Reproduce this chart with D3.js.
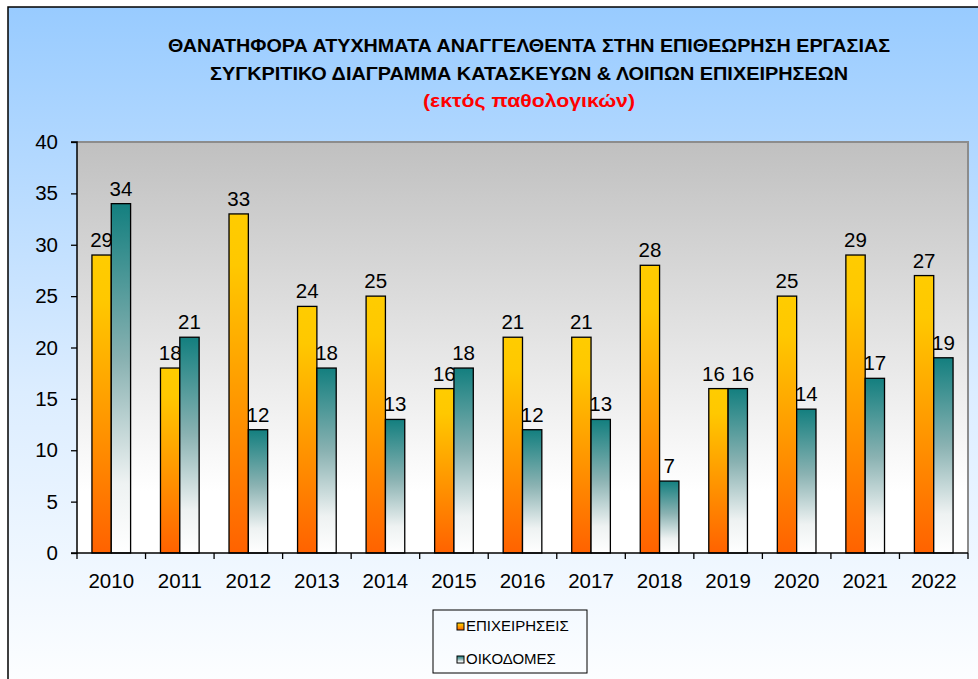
<!DOCTYPE html>
<html>
<head>
<meta charset="utf-8">
<script src="https://cdn.jsdelivr.net/npm/d3@7/dist/d3.min.js"></script>
<style>
  html, body { margin: 0; padding: 0; background: #ffffff; }
  svg { display: block; font-family: "Liberation Sans", Arial, sans-serif; }
</style>
</head>
<body>
<svg id="chart" width="978" height="679"></svg>
<script>
const years = ["2010","2011","2012","2013","2014","2015","2016","2017","2018","2019","2020","2021","2022"];
const epixeiriseis = [29,18,33,24,25,16,21,21,28,16,25,29,27];
const oikodomes   = [34,21,12,18,13,18,12,13,7,16,14,17,19];
const seriesNames = ["ΕΠΙΧΕΙΡΗΣΕΙΣ","ΟΙΚΟΔΟΜΕΣ"];
const yTicks = [0,5,10,15,20,25,30,35,40];
const titleLines = [
  "ΘΑΝΑΤΗΦΟΡΑ ΑΤΥΧΗΜΑΤΑ ΑΝΑΓΓΕΛΘΕΝΤΑ ΣΤΗΝ ΕΠΙΘΕΩΡΗΣΗ ΕΡΓΑΣΙΑΣ",
  "ΣΥΓΚΡΙΤΙΚΟ ΔΙΑΓΡΑΜΜΑ ΚΑΤΑΣΚΕΥΩΝ & ΛΟΙΠΩΝ ΕΠΙΧΕΙΡΗΣΕΩΝ",
  "(εκτός παθολογικών)"
];

const svg = d3.select("#chart");
const defs = svg.append("defs");

function vgrad(id, stops) {
  const g = defs.append("linearGradient").attr("id", id)
    .attr("x1", 0).attr("y1", 0).attr("x2", 0).attr("y2", 1);
  stops.forEach(s => g.append("stop").attr("offset", s[0]).attr("stop-color", s[1]));
}
vgrad("bgGrad", [[0, "#98CBFF"], [0.55, "#DCEDFF"], [1, "#FFFFFF"]]);
vgrad("plotGrad", [[0, "#C0C0C0"], [0.85, "#FFFFFF"], [1, "#FFFFFF"]]);
vgrad("orangeGrad", [[0, "#FFCC00"], [0.15, "#FFC800"], [1, "#FF6200"]]);
vgrad("tealGrad", [[0, "#137F7F"], [0.45, "#8AB2B2"], [0.8, "#EEF2F2"], [1, "#FFFFFF"]]);

// outer chart area
svg.append("rect").attr("x", 8).attr("y", 7).attr("width", 990).attr("height", 700)
  .attr("fill", "url(#bgGrad)").attr("stroke", "#000").attr("stroke-width", 1.5);

// title
const titleSpecs = [
  {y: 52, len: 722, color: "#000"},
  {y: 80, len: 638, color: "#000"},
  {y: 107, len: 212, color: "#FF0000"}
];
titleLines.forEach((t, i) => {
  svg.append("text")
    .attr("x", 529).attr("y", titleSpecs[i].y)
    .attr("text-anchor", "middle")
    .attr("font-family", "'Liberation Sans Narrow', 'Liberation Sans', Arial, sans-serif")
    .attr("font-weight", "bold").attr("font-size", 19)
    .attr("fill", titleSpecs[i].color)
    .attr("textLength", titleSpecs[i].len)
    .attr("lengthAdjust", "spacingAndGlyphs")
    .text(t);
});

// plot area
const px0 = 77, px1 = 968, py0 = 142, py1 = 553;
const x = d3.scaleBand().domain(years).range([px0, px1]).padding(0);
const y = d3.scaleLinear().domain([0, 40]).range([py1, py0]);

svg.append("rect").attr("x", px0).attr("y", py0).attr("width", px1 - px0).attr("height", py1 - py0)
  .attr("fill", "url(#plotGrad)");
// gray frame top/right
svg.append("path").attr("d", `M${px0},${py0}H${px1}V${py1}`)
  .attr("fill", "none").attr("stroke", "#8C8C8C").attr("stroke-width", 2);

// bars
const bw = x.bandwidth() * 0.282;
const fs = 20.5;
const data = years.map((yr, i) => ({yr, a: epixeiriseis[i], b: oikodomes[i]}));
const g = svg.append("g");
data.forEach(d => {
  const cx = x(d.yr) + x.bandwidth() / 2;
  // nudge labels outward when they would collide
  const close = Math.abs(y(d.a) - y(d.b)) < fs * 1.0;
  const nudge = close ? 5 : 0;
  const items = [
    {v: d.a, x0: cx - bw, fill: "url(#orangeGrad)", dx: -nudge},
    {v: d.b, x0: cx, fill: "url(#tealGrad)", dx: nudge}
  ];
  items.forEach(it => {
    g.append("rect").attr("x", it.x0).attr("y", y(it.v))
      .attr("width", bw).attr("height", y(0) - y(it.v))
      .attr("fill", it.fill).attr("stroke", "#000").attr("stroke-width", 1.3);
    g.append("text").attr("x", it.x0 + bw / 2 + it.dx).attr("y", y(it.v) - 8)
      .attr("text-anchor", "middle").attr("font-size", fs).attr("fill", "#000")
      .text(it.v);
  });
});

// y axis
const yAxis = d3.axisLeft(y).tickValues(yTicks).tickSize(6).tickPadding(13);
const ya = svg.append("g").attr("transform", `translate(${px0},0)`).call(yAxis);
ya.select(".domain").attr("stroke", "#000").attr("stroke-width", 1.5).attr("d", `M-6,${py0}H0V${py1}H-6`);
ya.selectAll(".tick line").attr("stroke", "#000").attr("stroke-width", 1.3);
ya.selectAll(".tick text").attr("font-size", fs).attr("fill", "#000")
  .attr("font-family", "'Liberation Sans', Arial, sans-serif");

// x axis
const xa = svg.append("g").attr("transform", `translate(0,${py1})`);
xa.append("line").attr("x1", px0).attr("x2", px1).attr("y1", 0).attr("y2", 0)
  .attr("stroke", "#000").attr("stroke-width", 1.5);
const bounds = years.map(yr => x(yr)).concat([px1]);
xa.selectAll("line.tk").data(bounds).enter().append("line").attr("class", "tk")
  .attr("x1", d => d).attr("x2", d => d).attr("y1", 0).attr("y2", 6)
  .attr("stroke", "#000").attr("stroke-width", 1.3);
xa.selectAll("text.lbl").data(years).enter().append("text").attr("class", "lbl")
  .attr("x", d => x(d) + x.bandwidth() / 2).attr("y", 35)
  .attr("text-anchor", "middle").attr("font-size", fs).attr("fill", "#000")
  .text(d => d);

// legend
const lg = svg.append("g");
lg.append("rect").attr("x", 433).attr("y", 610).attr("width", 154).attr("height", 63)
  .attr("fill", "none").attr("stroke", "#000").attr("stroke-width", 1);
const legFills = ["url(#orangeGrad)", "url(#tealGrad)"];
seriesNames.forEach((n, i) => {
  const cy = 627 + i * 33;
  lg.append("rect").attr("x", 457).attr("y", cy - 4).attr("width", 7).attr("height", 7)
    .attr("fill", legFills[i]).attr("stroke", "#000").attr("stroke-width", 1);
  lg.append("text").attr("x", 466).attr("y", cy).attr("dominant-baseline", "middle")
    .attr("font-size", 15).attr("fill", "#000").text(n);
});
</script>
</body>
</html>
